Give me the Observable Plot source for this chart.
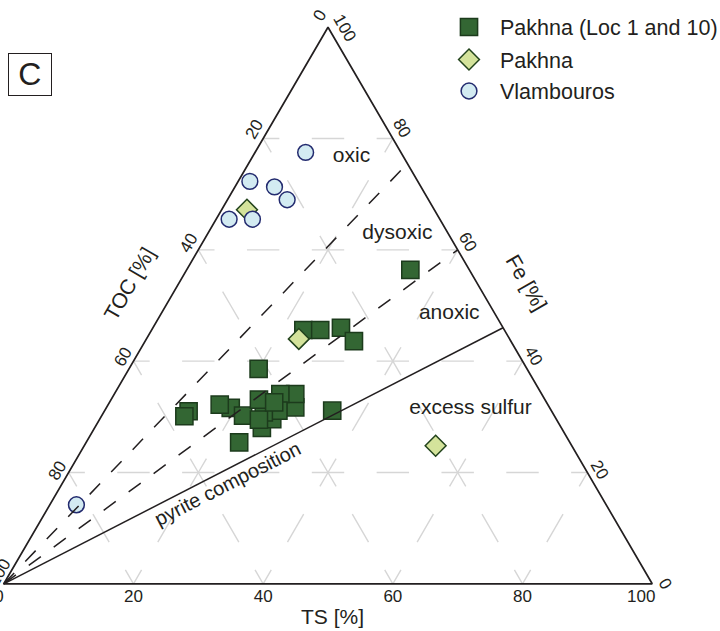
<!DOCTYPE html>
<html><head><meta charset="utf-8">
<script src="https://cdn.jsdelivr.net/npm/d3@7"></script>
<script src="https://cdn.jsdelivr.net/npm/@observablehq/plot@0.6"></script>
<style>
body{margin:0;background:#fff;}
#wrap{position:relative;width:720px;height:631px;overflow:hidden;font-family:"Liberation Sans",Arial,Helvetica,sans-serif;color:#231f20;}
#wrap svg{display:block;}
.ov{position:absolute;left:0;top:0;pointer-events:none;}
#cbox{position:absolute;left:8px;top:52.5px;width:41.5px;height:41.5px;border:1.5px solid #231f20;font-size:32px;line-height:41px;text-align:center;}
</style></head><body><div id="wrap"></div>
<script>
// ---------- data (ternary compositions; TOC = 100 - TS - Fe) ----------
const seriesNames = ["Pakhna (Loc 1 and 10)", "Pakhna", "Vlambouros"];
const pakhnaLocTS = [13.0, 12.8, 19.2, 17.2, 21.8, 23.6, 25.8, 26.6, 29.1, 27.9, 25.6, 26.8, 24.7, 24.6, 22.8, 25.4, 35.1, 20.0, 23.4, 26.0, 29.0, 32.2, 34.5];
const pakhnaLocFe = [31.0, 30.1, 31.6, 32.2, 30.2, 25.4, 28.0, 29.6, 31.7, 34.1, 34.1, 31.1, 30.8, 29.5, 33.1, 32.6, 31.1, 38.6, 45.6, 45.6, 46.0, 43.6, 56.4];
const pakhnaTS = [3.9, 23.5, 54.2];
const pakhnaFe = [67.2, 44.0, 24.8];
const vlambourosTS = [7.8, 1.8, 6.1, 9.2, 2.0, 5.6, 4.1];
const vlambourosFe = [77.5, 72.3, 71.3, 69.0, 65.5, 65.5, 14.2];
const tickValues = [0, 20, 40, 60, 80, 100];
const gridValues = [20, 40, 60, 80];
const regionLabels = ["oxic", "dysoxic", "anoxic", "excess sulfur"];
const regionTS = [15.15, 29.1, 44.3, 56.1];
const regionFe = [76.95, 63.2, 48.8, 31.75];
const pyriteLabel = "pyrite composition";
const pyriteLabelTS = 25.6, pyriteLabelFe = 17.9;
const pyriteEnd = {TS: 54.0, Fe: 46.0};          // solid line end on the TOC = 0 edge
const dashedEnds = [{TS: 24.5, Fe: 75.5}, {TS: 40.0, Fe: 60.0}];
const axisTitles = {TS: "TS [%]", TOC: "TOC [%]", Fe: "Fe [%]"};
const panelLetter = "C";

// ---------- layout ----------
const W = 720, H = 631;
const mL = 3.3, mR = 68.3, mT = 26.7, mB = 47.7;
const pxX = (W - mL - mR) / 100, pxY = (H - mT - mB) / 100;
const X = (ts, fe) => ts + fe / 2;   // ternary -> plot x (y is Fe)

const styles = [
  {symbol: "square", r: 9.7, fill: "#336633", stroke: "#1c3b1c"},
  {symbol: "diamond2", r: 9.4, fill: "#d4e39b", stroke: "#22431c"},
  {symbol: "circle", r: 7.9, fill: "#d3ebf2", stroke: "#232b6f"}
];
const table = (ts, fe, s) => ts.map((t, i) => ({TS: t, Fe: fe[i], TOC: 100 - t - fe[i], series: seriesNames[s]}));
const sets = [table(pakhnaLocTS, pakhnaLocFe, 0), table(pakhnaTS, pakhnaFe, 1), table(vlambourosTS, vlambourosFe, 2)];

const dH = 10 * pxX, dS = 10 * Math.hypot(pxX / 2, pxY);
const dash = d => `${d / 4} ${d / 2} ${d / 4} 0`;
const gridStyle = {stroke: "#d6d6d6", strokeWidth: 1.4};
const ink = "#231f20";

const marks = [
  // grid: Fe constant
  Plot.link(gridValues, {x1: f => X(0, f), y1: f => f, x2: f => X(100 - f, f), y2: f => f, ...gridStyle, strokeDasharray: dash(dH)}),
  // grid: TS constant
  Plot.link(gridValues, {x1: s => X(s, 0), y1: 0, x2: s => X(s, 100 - s), y2: s => 100 - s, ...gridStyle, strokeDasharray: dash(dS)}),
  // grid: TOC constant
  Plot.link(gridValues, {x1: c => X(100 - c, 0), y1: 0, x2: c => X(0, 100 - c), y2: c => 100 - c, ...gridStyle, strokeDasharray: dash(dS)}),
];

// data points
sets.forEach((data, i) => {
  const st = styles[i];
  marks.push(Plot.dot(data, {x: d => X(d.TS, d.Fe), y: "Fe", symbol: st.symbol, r: st.r, fill: st.fill, stroke: st.stroke, strokeWidth: 1.5}));
});

// boundary lines from the TOC apex
marks.push(Plot.link(dashedEnds, {x1: 0, y1: 0, x2: d => X(d.TS, d.Fe), y2: "Fe", stroke: ink, strokeWidth: 1.5, strokeDasharray: "15 16"}));
marks.push(Plot.link([pyriteEnd], {x1: 0, y1: 0, x2: d => X(d.TS, d.Fe), y2: "Fe", stroke: ink, strokeWidth: 1.5}));

// triangle
const verts = [[0, 0], [100, 0], [0, 100], [0, 0]]; // [TS, Fe]
marks.push(Plot.line(verts, {x: d => X(d[0], d[1]), y: d => d[1], stroke: ink, strokeWidth: 1.7, strokeLinejoin: "miter"}));

// tick labels
tickValues.forEach(t => {
  // bottom TS
  marks.push(Plot.text([t], {x: d => X(d, 0), y: 0, text: d => String(d), dy: 12.7, dx: t === 0 ? -4.7 : t === 100 ? -11 : 0, fontSize: 17, fill: ink}));
  // left TOC
  marks.push(Plot.text([t], {x: d => X(0, 100 - d), y: d => 100 - d, text: d => String(d), rotate: -60, fontSize: 17, fill: ink,
    dx: t === 100 ? -4.3 : -8 - 0.039 * t, dy: t === 100 ? -11.3 : -11.7 + 0.124 * t}));
  // right Fe
  marks.push(Plot.text([t], {x: d => X(100 - d, d), y: d => d, text: d => String(d), rotate: 60, fontSize: 17, fill: ink,
    dx: t === 100 ? 16.5 : 13 - 0.05 * t, dy: t === 100 ? 0.8 : -0.13 * t}));
});

// axis titles
marks.push(Plot.text([axisTitles.TS], {x: X(50, 0), y: 0, text: d => d, dx: 4.5, dy: 33, fontSize: 21, fill: ink}));
marks.push(Plot.text([axisTitles.TOC], {x: X(0, 50), y: 50, text: d => d, dx: -36, dy: -21.5, rotate: -60, fontSize: 21, fill: ink}));
marks.push(Plot.text([axisTitles.Fe], {x: X(50, 50), y: 50, text: d => d, dx: 36, dy: -22.5, rotate: 60, fontSize: 21, fill: ink}));

// region labels
marks.push(Plot.text(regionLabels, {x: (d, i) => X(regionTS[i], regionFe[i]), y: (d, i) => regionFe[i], text: d => d, fontSize: 21, fill: ink}));
marks.push(Plot.text([pyriteLabel], {x: X(pyriteLabelTS, pyriteLabelFe), y: pyriteLabelFe, text: d => d, rotate: -27, fontSize: 20, fill: ink}));

const chart = Plot.plot({
  width: W, height: H,
  marginLeft: mL, marginRight: mR, marginTop: mT, marginBottom: mB,
  x: {domain: [0, 100], axis: null},
  y: {domain: [0, 100], axis: null},
  style: {fontFamily: '"Liberation Sans", Arial, Helvetica, sans-serif', background: "#fff", overflow: "visible"},
  marks
});
const wrap = document.getElementById("wrap");
wrap.appendChild(chart);

// panel letter box
const cb = document.createElement("div");
cb.id = "cbox"; cb.textContent = panelLetter;
wrap.appendChild(cb);

// legend
const lg = d3.select(wrap).append("svg").attr("class", "ov").attr("width", W).attr("height", 120);
const rowsY = [27, 59.5, 91];
seriesNames.forEach((name, i) => {
  const st = styles[i], cy = rowsY[i], cx = 469;
  const g = lg.append("g");
  const sz = Math.PI * st.r * st.r;
  const sym = st.symbol === "square" ? d3.symbolSquare : st.symbol === "diamond2" ? d3.symbolDiamond2 : d3.symbolCircle;
  g.append("path").attr("transform", `translate(${cx},${cy})`).attr("d", d3.symbol(sym, sz)())
    .attr("fill", st.fill).attr("stroke", st.stroke).attr("stroke-width", 1.5);
  g.append("text").attr("x", 500).attr("y", cy + 8).attr("font-size", 21.5)
    .attr("font-family", '"Liberation Sans", Arial, sans-serif').attr("fill", ink).text(name);
});
</script></body></html>
